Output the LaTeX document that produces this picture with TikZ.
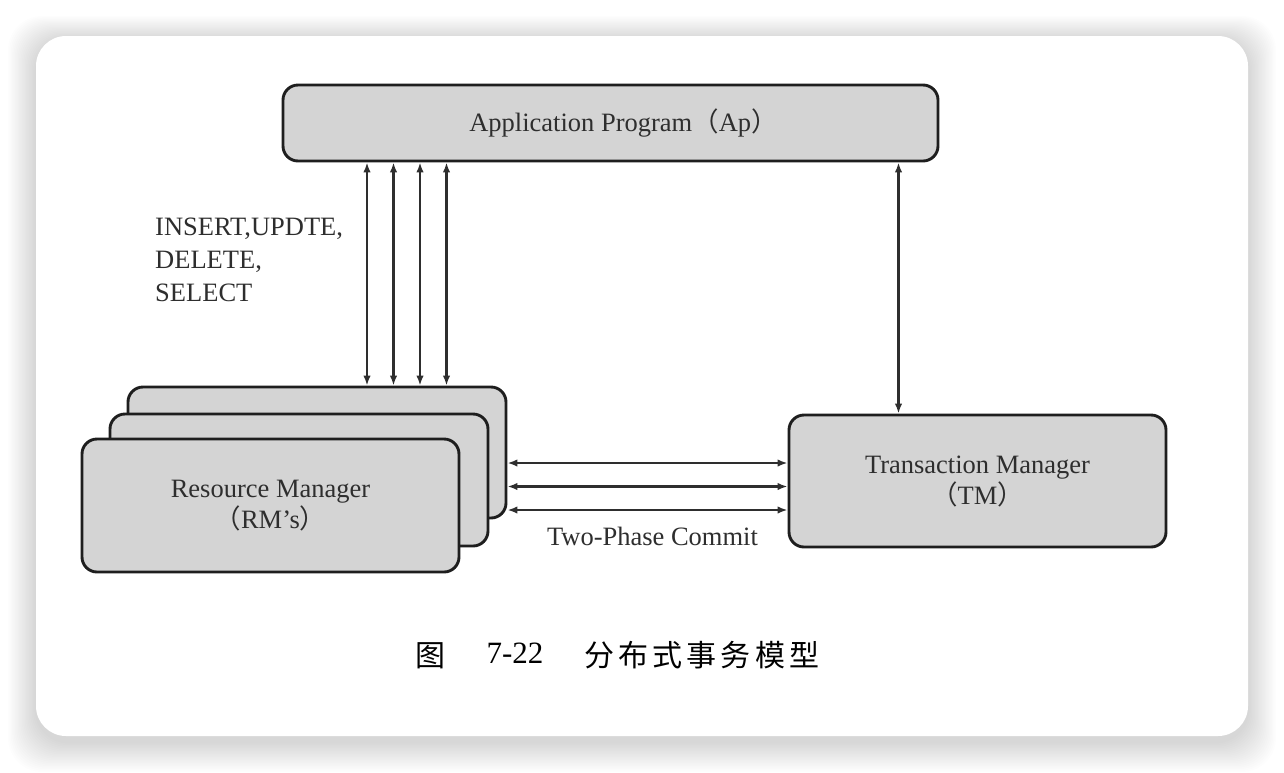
\documentclass[tikz,border=0pt]{standalone}
\usepackage{fontspec}
\setmainfont{Liberation Serif}
\newfontfamily\cjk{Noto Sans CJK SC}
\usetikzlibrary{arrows.meta}
\definecolor{boxfill}{HTML}{D4D4D4}
\definecolor{edge}{HTML}{1E1E1E}
\definecolor{txt}{HTML}{2E2E2E}
\newcommand{\lp}{{\cjk （}}
\newcommand{\rp}{{\cjk ）}}
\begin{document}
\begin{tikzpicture}[x=1pt,y=-1pt,
  box/.style={draw=edge, line width=2.9pt, fill=boxfill, rounded corners=15pt, inner sep=0pt,
    text=txt, align=center, font=\fontsize{26.5}{31}\selectfont},
  link/.style={{Latex[length=10pt,width=7.5pt]}-{Latex[length=10pt,width=7.5pt]}, line width=2.2pt, draw=txt},
  lbl/.style={text=txt, font=\fontsize{26.5}{33}\selectfont, inner sep=0pt},
  captext/.style={text=black, inner sep=0pt}]
\useasboundingbox (0,0) rectangle (1284,772);
\fill[white] (0,0) rectangle (1284,772);
% card shadow
\foreach \i in {1,...,20}
  \fill[black, opacity=0.009, rounded corners=34pt]
    ({36-1.4*\i},{40-1.2*\i}) rectangle ({1248+1.4*\i},{742+1.5*\i});
\fill[white, rounded corners=30pt] (36,36) rectangle (1248,736);

% boxes
\node[box, minimum width=655pt, minimum height=76pt] (ap) at (610.5,123)
  {\hspace*{26pt}Application Program\lp Ap\rp};
\node[box, minimum width=378pt, minimum height=131pt] (rm3) at (317,452.5) {};
\node[box, minimum width=378pt, minimum height=132pt] (rm2) at (299,480) {};
\node[box, minimum width=377pt, minimum height=133pt] (rm1) at (270.5,505.5)
  {Resource Manager\\\lp RM’s\rp};
\node[box, minimum width=377pt, minimum height=132pt] (tm) at (977.5,481)
  {Transaction Manager\\\lp TM\rp};

% vertical connectors
\coordinate (v1) at (367,0);
\coordinate (v2) at (393.5,0);
\coordinate (v3) at (420,0);
\coordinate (v4) at (446.5,0);
\coordinate (v5) at (898.5,0);
\foreach \v in {v1,v2,v3,v4}
  \draw[link] (ap.south -| \v) -- (rm3.north -| \v);
\draw[link] (ap.south -| v5) -- (tm.north -| v5);

% horizontal connectors
\coordinate (h1) at (0,463);
\coordinate (h2) at (0,486.5);
\coordinate (h3) at (0,510);
\foreach \h in {h1,h2,h3}
  \draw[link] (rm3.east |- \h) -- (tm.west |- \h);

% labels
\node[lbl, align=left, anchor=north west] (sql) at (155,218)
  {INSERT,UPDTE,\\DELETE,\\SELECT};
\node[lbl, anchor=base] (tpc) at (652.5,545) {Two-Phase Commit};

% caption
\node[captext, anchor=base, font=\cjk\fontsize{30}{30}\selectfont] (c1) at (430,666) {图};
\node[captext, anchor=base, font=\fontsize{31}{31}\selectfont] (c2) at (515,663) {7-22};
\node[captext, anchor=base west, font=\cjk\fontsize{30}{30}\selectfont\addfontfeature{LetterSpace=14}] (c3) at (584,666) {分布式事务模型};
\end{tikzpicture}
\end{document}
